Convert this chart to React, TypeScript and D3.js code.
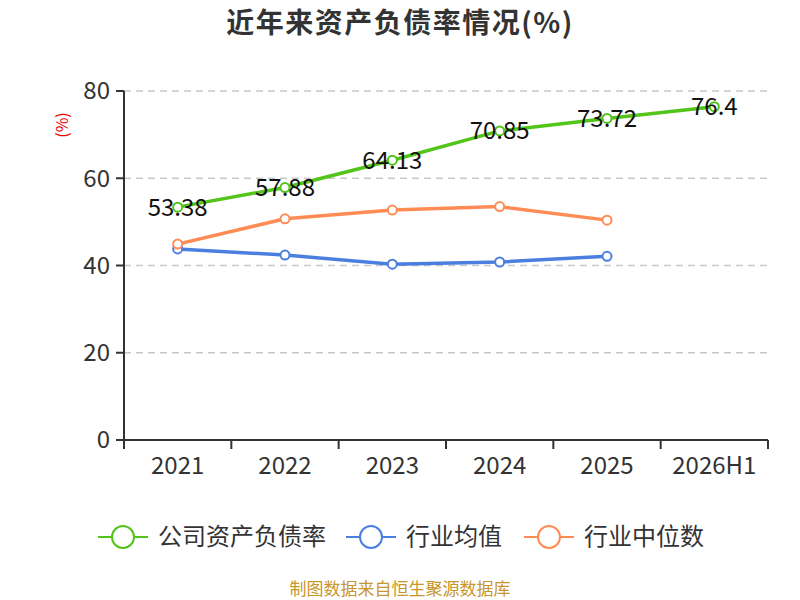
import React from 'react';
import * as d3 from 'd3';

const categories = ['2021', '2022', '2023', '2024', '2025', '2026H1'];
const companyRatio = [53.38, 57.88, 64.13, 70.85, 73.72, 76.4];
const industryAvg = [43.8, 42.4, 40.3, 40.8, 42.1];
const industryMedian = [44.9, 50.7, 52.7, 53.5, 50.4];
const yTicks = [0, 20, 40, 60, 80];

const series = [
  { name: '公司资产负债率', color: '#52c41a', values: companyRatio },
  { name: '行业均值', color: '#4a7fe0', values: industryAvg },
  { name: '行业中位数', color: '#ff8c55', values: industryMedian },
];

const font = '"Microsoft YaHei", "Noto Sans CJK SC", "Noto Sans", sans-serif';

const App: React.FC = () => {
  const width = 800;
  const height = 600;
  const margin = { top: 91, right: 32, bottom: 160, left: 124 };
  const innerWidth = width - margin.left - margin.right;
  const innerHeight = height - margin.top - margin.bottom;

  const xScale = d3.scaleBand().domain(categories).range([0, innerWidth]);
  const yScale = d3.scaleLinear().domain([0, 80]).range([innerHeight, 0]);
  const cx = (i: number) => xScale(categories[i])! + xScale.bandwidth() / 2;

  const line = d3
    .line<number>()
    .x((_, i) => cx(i))
    .y(d => yScale(d));

  const legendItems = [
    { x: 98, textX: 158 },
    { x: 346, textX: 406 },
    { x: 524, textX: 584 },
  ];

  return (
    <svg
      width={width}
      height={height}
      style={{ display: 'block', position: 'absolute', left: 0, top: 0, fontFamily: font }}
    >
      <rect width={width} height={height} fill="#fff" />
      <text
        x={400}
        y={33}
        textAnchor="middle"
        fontSize="28px"
        fontWeight="bold"
        letterSpacing="1.5px"
        fill="#333"
      >
        近年来资产负债率情况(%)
      </text>

      <g transform={`translate(${margin.left}, ${margin.top})`}>
        {/* Grid lines */}
        {yTicks.filter(t => t > 0).map(t => (
          <line
            key={`grid-${t}`}
            x1={0}
            x2={innerWidth}
            y1={yScale(t)}
            y2={yScale(t)}
            stroke="#c8c8c8"
            strokeWidth={1.3}
            strokeDasharray="7,5"
          />
        ))}

        {/* Y-axis */}
        <line y1={0} y2={innerHeight} stroke="#333" strokeWidth={2} />
        {yTicks.map(t => (
          <g key={`y-${t}`} transform={`translate(0, ${yScale(t)})`}>
            <line x2={-8} stroke="#333" strokeWidth={2} />
            <text x={-14} dy=".35em" textAnchor="end" fontSize="24px" fill="#333">
              {t}
            </text>
          </g>
        ))}
        <text
          transform={`translate(${62 - margin.left}, ${125 - margin.top}) rotate(-90)`}
          textAnchor="middle"
          dy=".35em"
          fontSize="16px"
          fill="#e00"
        >
          (%)
        </text>

        {/* X-axis */}
        <g transform={`translate(0, ${innerHeight})`}>
          <line x1={0} x2={innerWidth} stroke="#333" strokeWidth={2} />
          {categories.map(c => (
            <line
              key={`xt-${c}`}
              x1={xScale(c)!}
              x2={xScale(c)!}
              y2={9}
              stroke="#333"
              strokeWidth={2}
            />
          ))}
          <line x1={innerWidth} x2={innerWidth} y2={9} stroke="#333" strokeWidth={2} />
          {categories.map((c, i) => (
            <text key={`xl-${c}`} x={cx(i)} y={34} textAnchor="middle" fontSize="24px" fill="#333">
              {c}
            </text>
          ))}
        </g>

        {/* Lines */}
        {series.map(s => (
          <g key={s.name}>
            <path d={line(s.values) || ''} fill="none" stroke={s.color} strokeWidth={3.5} />
            {s.values.map((v, i) => (
              <circle
                key={i}
                cx={cx(i)}
                cy={yScale(v)}
                r={4.5}
                fill="#fff"
                stroke={s.color}
                strokeWidth={2}
              />
            ))}
          </g>
        ))}

        {/* Labels */}
        {companyRatio.map((v, i) => (
          <text
            key={`lbl-${i}`}
            x={cx(i)}
            y={yScale(v)}
            dy=".35em"
            textAnchor="middle"
            fontSize="24px"
            fill="#111"
          >
            {v}
          </text>
        ))}
      </g>

      {/* Legend */}
      {series.map((s, i) => (
        <g key={`leg-${s.name}`}>
          <line
            x1={legendItems[i].x}
            x2={legendItems[i].x + 50}
            y1={537}
            y2={537}
            stroke={s.color}
            strokeWidth={2}
          />
          <circle cx={legendItems[i].x + 25} cy={537} r={11} fill="#fff" stroke={s.color} strokeWidth={2} />
          <text x={legendItems[i].textX} y={537} dy=".35em" fontSize="24px" fill="#333">
            {s.name}
          </text>
        </g>
      ))}

      <text x={400} y={595} textAnchor="middle" fontSize="17px" fill="#c8962a">
        制图数据来自恒生聚源数据库
      </text>
    </svg>
  );
};

export default App;
